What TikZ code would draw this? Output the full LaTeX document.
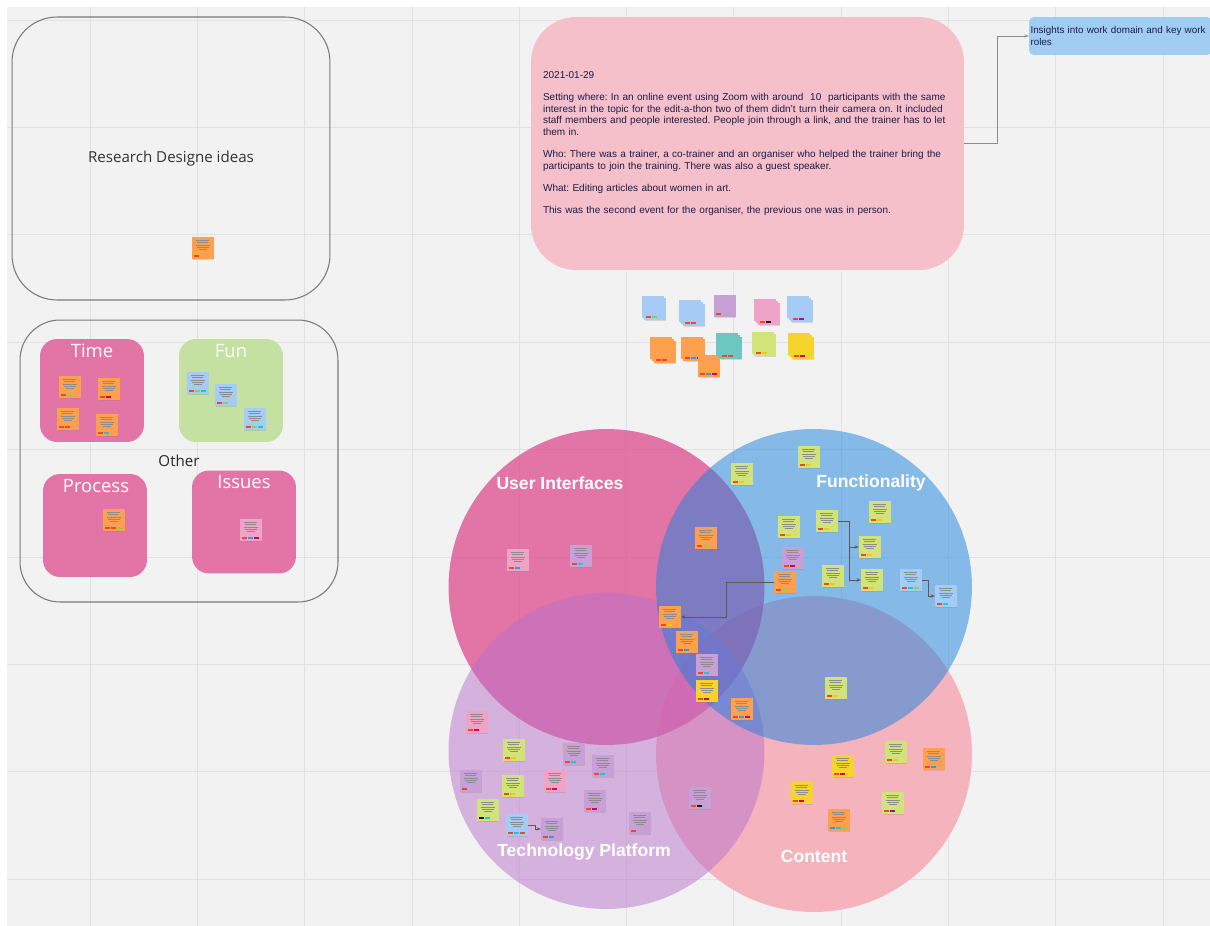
\documentclass[tikz,border=0pt]{standalone}
\usepackage{fontspec}
\setmainfont{Liberation Sans}
\newfontfamily\opensans{Open Sans}
\usetikzlibrary{calc,arrows.meta,shadows}
\definecolor{canvas}{HTML}{F2F2F2}
\definecolor{gridline}{HTML}{E2E2E2}
\definecolor{frame}{HTML}{7A7A7A}
\definecolor{ink}{HTML}{1C1C48}
\definecolor{notepink}{HTML}{F5C0CA}
\definecolor{noteblue}{HTML}{A2CDF2}
\definecolor{groupmagenta}{HTML}{E274A6}
\definecolor{groupgreen}{HTML}{C4E1A2}
\definecolor{uicol}{HTML}{DD4A8D}
\definecolor{funcol}{HTML}{1A82DE}
\definecolor{techcol}{HTML}{BA72CC}
\definecolor{contcol}{HTML}{F5B3BE}
% sticky colours
\definecolor{storange}{HTML}{FFA04F}
\definecolor{stblue}{HTML}{A6CCF5}
\definecolor{stgreen}{HTML}{D2E37A}
\definecolor{styellow}{HTML}{F7D42C}
\definecolor{stpurple}{HTML}{C7A0D6}
\definecolor{stpink}{HTML}{EFA3C6}
\definecolor{stteal}{HTML}{6BC7BF}
% tag colours
\definecolor{tagred}{HTML}{F24726}
\definecolor{tagyel}{HTML}{FAC710}
\definecolor{tagcyan}{HTML}{12CDD4}
\definecolor{taggrn}{HTML}{8FD14F}
\definecolor{tagmag}{HTML}{DA0063}
\definecolor{tagblue}{HTML}{2D9BF0}
\definecolor{tagpur}{HTML}{9510AC}
\definecolor{tagblack}{HTML}{1A1A1A}

\tikzset{
  sticky/.style={rectangle, minimum size=0.43cm, inner sep=0pt,
    drop shadow={shadow xshift=0.3pt, shadow yshift=-0.8pt, opacity=0.25}},
  textline/.style={draw=black!45, line width=0.15pt},
  link/.style={draw=black!65, line width=0.5pt, -{Stealth[length=2.5pt]}},
  board/.style={draw=frame, line width=0.6pt, rectangle},
  groupbox/.style={rectangle, rounded corners=0.34cm, minimum width=2.08cm, minimum height=2.06cm},
  boxtitle/.style={text=white, font=\opensans\fontsize{10.5}{12}\selectfont},
  venn/.style={circle, minimum size=6.32cm, inner sep=0pt},
  vennlabel/.style={text=white, font=\bfseries\fontsize{10}{12}\selectfont},
}

% sticky note: name, position, colour, tags
\newcommand{\sticky}[4]{%
  \node[sticky, fill=#3] (#1) at (#2) {};
  \foreach \ln/\len in {0/13,1/11,2/14,3/12,4/8}
    \draw[textline] ($(#1.north west)+({10.75-\len/2},{3.5+2.2*\ln})$) -- ++(\len,0);
  \foreach \tg [count=\i from 0] in {#4}
    \fill[\tg] ($(#1.south west)+({2+6*\i},-4.6)$) rectangle ++(5.5,2.4);
}
% pile of blank notes: name, position, colour, layers, tags
\newcommand{\pile}[5]{%
  \foreach \k in {#4,...,1}
    \node[sticky, fill=#3] (#1-\k) at ($(#2)+({-2*(\k-1)},{-2*(\k-1)})$) {};
  \foreach \tg [count=\i from 0] in {#5}
    \fill[\tg] ($(#1-1.south west)+({2+6*\i},-4.6)$) rectangle ++(5.5,2.4);
}

\begin{document}
\begin{tikzpicture}[x=0.02cm, y=-0.02cm, >=Stealth]
  \useasboundingbox (0,0) rectangle (1210,926);
  \fill[white] (0,0) rectangle (1210,926);
  \fill[canvas] (7,7) rectangle (1210,926);
  \foreach \k in {0,...,10}
    \draw[gridline, line width=0.45pt] ({90+107.3*\k},7) -- ++(0,919);
  \foreach \k in {0,...,8}
    \draw[gridline, line width=0.45pt] (7,{20+107.4*\k}) -- (1210,{20+107.4*\k});

  % left column
  \node[board, rounded corners=0.9cm, minimum width=6.36cm, minimum height=5.66cm,
    font=\opensans\fontsize{8.6}{10}\selectfont, text=black!80] (research) at (171,158.5) {Research Designe ideas};
  \sticky{r1}{203,248}{storange}{tagred}

  \node[board, rounded corners=0.8cm, minimum width=6.36cm, minimum height=5.64cm,
    font=\opensans\fontsize{8.6}{10}\selectfont, text=black!85] (other) at (179,461) {Other};
  \node[groupbox, fill=groupmagenta] (time) at (92,390.5) {};
  \node[groupbox, fill=groupgreen] (fun) at (231,390.5) {};
  \node[groupbox, fill=groupmagenta] (process) at (95,525.5) {};
  \node[groupbox, fill=groupmagenta] (issues) at (244,522) {};
  \node[boxtitle] (timetitle) at (92,351) {Time};
  \node[boxtitle] (funtitle) at (231,351) {Fun};
  \node[boxtitle] (processtitle) at (96,486) {Process};
  \node[boxtitle] (issuestitle) at (244,482) {Issues};
  \sticky{o1}{70,387}{storange}{tagred,taggrn}
  \sticky{o2}{109,389}{storange}{tagred,tagmag}
  \sticky{o3}{68,419}{storange}{tagred,tagred}
  \sticky{o4}{107,425}{storange}{tagred,tagcyan}
  \sticky{o5}{198,383}{stblue}{tagred,taggrn,tagcyan}
  \sticky{o6}{226,395}{stblue}{tagred,taggrn}
  \sticky{o7}{255,419}{stblue}{tagred,taggrn,tagcyan}
  \sticky{o8}{114,520}{storange}{tagred,tagred,taggrn}
  \sticky{o9}{251,530}{stpink}{tagred,tagblue,tagmag}

  % session note
  \node[rectangle, fill=notepink, rounded corners=0.9cm, minimum width=8.66cm, minimum height=5.06cm,
    text width=8.18cm, inner xsep=0.24cm, align=left, text=ink,
    font=\frenchspacing\fontsize{5.7}{6.65}\selectfont] (note) at (747.5,143.5) {%
    2021-01-29\\[6pt]
    Setting where: In an online event using Zoom with around\ \ 10\ \ participants with the same\\
    interest in the topic for the edit-a-thon two of them didn't turn their camera on. It included\\
    staff members and people interested. People join through a link, and the trainer has to let\\
    them in.\\[6pt]
    Who: There was a trainer, a co-trainer and an organiser who helped the trainer bring the\\
    participants to join the training. There was also a guest speaker.\\[6pt]
    What: Editing articles about women in art.\\[6pt]
    This was the second event for the organiser, the previous one was in person.};
  \node[rectangle, fill=noteblue, rounded corners=0.1cm, minimum width=3.66cm, minimum height=0.76cm,
    text width=3.6cm, inner xsep=0.03cm, align=left, text=ink,
    font=\fontsize{5.6}{6.3}\selectfont] (insight) at (1120.5,36) {Insights into work domain and key work\\roles};
  \draw[link, draw=black!45] (note.east) -- ++(33,0) |- (insight.west);

  % unsorted notes
  \pile{c1}{655,309}{stblue}{2}{tagred,taggrn}
  \pile{c2}{694,315}{stblue}{3}{tagred,tagred}
  \pile{c3}{725,306}{stpurple}{1}{tagred}
  \pile{c4}{769,314}{stpink}{3}{tagred,tagblack}
  \pile{c5}{802,311}{stblue}{3}{tagred,tagpur}
  \pile{c6}{665,352}{storange}{3}{tagred,tagred}
  \pile{c7}{694,350}{storange}{2}{tagred,tagblue,tagmag}
  \pile{c8}{709,366}{storange}{1}{tagred,tagblue,tagmag}
  \pile{c9}{731,348}{stteal}{3}{tagred,tagred}
  \pile{c10}{765,345}{stgreen}{2}{tagred,tagyel}
  \pile{c11}{803,348}{styellow}{3}{tagred,tagmag}

  % affinity circles
  \node[venn, fill=contcol] (content) at (814,754) {};
  \node[venn, fill=uicol, fill opacity=0.75] (ui) at (606.5,587) {};
  \node[venn, fill=techcol, fill opacity=0.5] (tech) at (606.5,751) {};
  \node[venn, fill=funcol, fill opacity=0.5] (func) at (814,587) {};
  \node[vennlabel] (uilabel) at (560,483) {User Interfaces};
  \node[vennlabel] (funclabel) at (871,483) {Functionality};
  \node[vennlabel] (techlabel) at (584,852) {Technology Platform};
  \node[vennlabel] (contlabel) at (814,856) {Content};

  \sticky{f1}{809,457}{stgreen}{tagred,tagyel}
  \sticky{f2}{742,474}{stgreen}{tagred,tagyel}
  \sticky{f3}{706,538}{storange}{tagred,taggrn}
  \sticky{f4}{789,527}{stgreen}{tagred,tagyel}
  \sticky{f5}{827,521}{stgreen}{tagred,tagyel}
  \sticky{f6}{880,512}{stgreen}{tagred,tagyel}
  \sticky{f7}{793,558}{stpurple}{tagred,tagmag}
  \sticky{f8}{870,547}{stgreen}{tagred,tagyel}
  \sticky{f9}{785,582}{storange}{tagred,taggrn}
  \sticky{f10}{833,576}{stgreen}{tagred,tagyel}
  \sticky{f11}{872,580}{stgreen}{tagred,tagyel}
  \sticky{f12}{911,580}{stblue}{tagred,tagcyan,taggrn}
  \sticky{f13}{946,596}{stblue}{tagred,tagcyan}
  \sticky{m1}{670,617}{storange}{tagred,tagyel}
  \sticky{m2}{687,642}{storange}{tagred,tagblue}
  \sticky{m3}{707,665}{stpurple}{tagred,tagcyan}
  \sticky{m4}{707,691}{styellow}{tagred,tagmag}
  \sticky{m5}{742,709}{storange}{tagred,tagblue,tagmag}
  \sticky{m6}{836,688}{stgreen}{tagred,tagyel}
  \sticky{u1}{518,560}{stpink}{tagred,tagblue}
  \sticky{u2}{581,556}{stpurple}{tagred,tagcyan}
  \sticky{t1}{477,722}{stpink}{tagred,tagmag}
  \sticky{t2}{514,750}{stgreen}{tagred,tagyel}
  \sticky{t3}{574,754}{stpurple}{tagred,tagcyan}
  \sticky{t4}{603,766}{stpurple}{tagred,tagcyan}
  \sticky{t5}{471,781}{stpurple}{tagred}
  \sticky{t6}{513,786}{stgreen}{tagred,tagyel}
  \sticky{t7}{555,781}{stpink}{tagred,tagmag}
  \sticky{t8}{595,801}{stpurple}{tagred,tagmag}
  \sticky{t9}{488,810}{stgreen}{tagblack,tagcyan}
  \sticky{t10}{517,825}{stblue}{tagred,tagcyan,tagred}
  \sticky{t11}{552,829}{stpurple}{tagred,tagblue}
  \sticky{t12}{640,823}{stpurple}{tagred}
  \sticky{t13}{700,798}{stpurple}{tagred,tagblack}
  \sticky{k1}{896,752}{stgreen}{tagred,tagyel}
  \sticky{k2}{934,759}{storange}{tagred,tagblue}
  \sticky{k3}{843,766}{styellow}{tagred,tagmag}
  \sticky{k4}{802,793}{styellow}{tagred,tagmag}
  \sticky{k5}{893,803}{stgreen}{tagred,tagpur}
  \sticky{k6}{839,820}{storange}{tagblue,tagcyan,taggrn}

  % links between notes
  \draw[link] (f5.east) -- ++(11,0) |- (f8.west);
  \draw[link] (f5.east) -- ++(11,0) |- (f11.west);
  \draw[link] (f12.east) -- ++(6,0) |- (f13.west);
  \draw[link] (f9.west) -- ++(-47,0) |- (m1.east);
  \draw[link] (t10.east) -- ++(7,0) |- (t11.west);
\end{tikzpicture}
\end{document}
